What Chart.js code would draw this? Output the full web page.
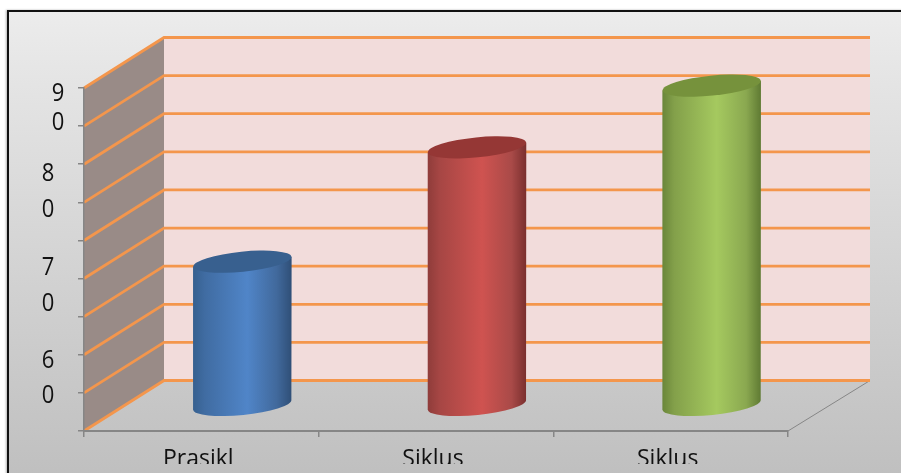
<!DOCTYPE html>
<html>
<head>
<meta charset="utf-8">
<script src="https://cdn.jsdelivr.net/npm/chart.js@4/dist/chart.umd.min.js"></script>
<style>
  html, body { margin: 0; height: 100%; background: #fff; overflow: hidden; }
  #frame {
    position: absolute; left: 7px; top: 10px; width: 920px; height: 490px;
    border: 2px solid #111; box-sizing: content-box;
    background: linear-gradient(#ececec, #e4e4e4 15%, #bdbdbd 100%);
    box-shadow: -1px 0 2px rgba(0,0,0,.3);
  }
  #chart { position: absolute; left: 0; top: 0; }
</style>
</head>
<body>
<div id="frame"><canvas id="chart" width="892" height="452"></canvas></div>
<script>
const categories = ['Prasikl', 'Siklus', 'Siklus'];
const seriesValues = [68.9, 83.9, 92];
const yTickValues = [90, 80, 70, 60];

const barColors = [
  { top: '#38608f', rim: '#36608f', edge: '#406ca2', light: '#5085c8', mid: '#41699c', dark: '#2f4f77' },
  { top: '#953735', rim: '#8f3c3a', edge: '#a64644', light: '#cf5350', mid: '#a94a48', dark: '#7a2f2e' },
  { top: '#76923c', rim: '#6a863a', edge: '#83a04a', light: '#a5c95f', mid: '#8aa850', dark: '#5f7a33' },
];

const DEPTH_X = 80;
const DEPTH_Y = 50.5;
const FONT = '"Open Sans", sans-serif';

// where each digit of the wrapped y labels sits, relative to its tick
const yLabelLayout = {
  90: { x: 49, dy: [-32, -3] },
  80: { x: 39, dy: [-28, 8] },
  70: { x: 39, dy: [-11, 25] },
  60: { x: 39, dy: [6, 41] },
};

const scenePlugin = {
  id: 'scene',
  beforeDraw(chart) {
    const { ctx, chartArea: a, scales: { y } } = chart;
    const backL = a.left + DEPTH_X, backR = a.right + DEPTH_X + 2;
    const backT = a.top - DEPTH_Y, backB = a.bottom - DEPTH_Y;
    ctx.save();
    // back wall
    ctx.fillStyle = '#f2dcdb';
    ctx.fillRect(backL, backT, backR - backL, backB - backT);
    // side wall
    ctx.fillStyle = '#998b87';
    ctx.beginPath();
    ctx.moveTo(a.left, a.top);
    ctx.lineTo(backL, backT);
    ctx.lineTo(backL, backB);
    ctx.lineTo(a.left, a.bottom);
    ctx.closePath();
    ctx.fill();
    // floor edge on the right
    ctx.strokeStyle = '#868686';
    ctx.lineWidth = 1;
    ctx.beginPath();
    ctx.moveTo(a.right, a.bottom);
    ctx.lineTo(backR, backB);
    ctx.stroke();
    // grid lines run along the side wall and then across the back wall
    ctx.strokeStyle = '#f4964c';
    ctx.lineWidth = 2.8;
    y.ticks.forEach(t => {
      const py = y.getPixelForValue(t.value);
      ctx.beginPath();
      ctx.moveTo(a.left, py);
      ctx.lineTo(backL, py - DEPTH_Y);
      ctx.lineTo(backR, py - DEPTH_Y);
      ctx.stroke();
    });
    ctx.restore();
  },
  afterDatasetsDraw(chart) {
    const { ctx } = chart;
    const offX = DEPTH_X / 2 + 1, offY = DEPTH_Y / 2;
    chart.getDatasetMeta(0).data.forEach((bar, i) => {
      const c = barColors[i];
      const cx = bar.x + offX, w = bar.width / 2;
      const top = bar.y - offY, bottom = bar.base - offY;
      const tilt = -0.1, ry = 10;
      const g = ctx.createLinearGradient(cx - w, 0, cx + w, 0);
      g.addColorStop(0, c.rim);
      g.addColorStop(0.12, c.edge);
      g.addColorStop(0.55, c.light);
      g.addColorStop(0.85, c.mid);
      g.addColorStop(1, c.dark);
      ctx.save();
      const dy = w * Math.sin(tilt);
      ctx.fillStyle = g;
      ctx.beginPath();
      ctx.moveTo(cx - w, top - dy);
      ctx.lineTo(cx - w, bottom - dy);
      ctx.ellipse(cx, bottom, w, ry, tilt, Math.PI, 0, true);
      ctx.lineTo(cx + w, top + dy);
      ctx.closePath();
      ctx.fill();
      ctx.fillStyle = c.top;
      ctx.beginPath();
      ctx.ellipse(cx, top, w, ry, tilt, 0, Math.PI * 2);
      ctx.fill();
      ctx.restore();
    });
  },
  afterDraw(chart) {
    // the wrapped digit labels are unevenly spaced, so they cannot be plain ticks
    const { ctx, scales: { y } } = chart;
    ctx.save();
    ctx.font = '25px ' + FONT;
    ctx.fillStyle = '#111';
    ctx.textAlign = 'center';
    ctx.textBaseline = 'middle';
    yTickValues.forEach(v => {
      const l = yLabelLayout[v];
      String(v).split('').forEach((d, k) => {
        ctx.save();
        ctx.translate(l.x, y.getPixelForValue(v) + l.dy[k]);
        ctx.scale(0.88, 1);
        ctx.fillText(d, 0, 0);
        ctx.restore();
      });
    });
    ctx.restore();
  },
};

new Chart(document.getElementById('chart'), {
  type: 'bar',
  data: {
    labels: categories,
    datasets: [{
      data: seriesValues,
      base: 50,
      backgroundColor: 'transparent',
      barPercentage: 0.42,
      categoryPercentage: 1,
    }],
  },
  plugins: [scenePlugin],
  options: {
    responsive: false,
    animation: false,
    layout: { padding: { left: 75, right: 113, top: 76, bottom: 0 } },
    plugins: { legend: { display: false }, tooltip: { enabled: false } },
    scales: {
      x: {
        grid: { drawOnChartArea: false, color: '#868686', tickLength: 6, lineWidth: 1.5 },
        border: { color: '#868686', width: 2 },
        // the canvas ends at the labels' baseline, which crops them like the original
        ticks: { color: '#111', font: { family: FONT, size: 23 }, padding: 9, labelOffset: -3, maxRotation: 0 },
        afterFit: s => { s.height = 33; },
      },
      y: {
        min: 50,
        max: 95,
        grid: { drawOnChartArea: false, color: '#868686', tickLength: 6, lineWidth: 1.5 },
        border: { color: '#868686', width: 1.5 },
        ticks: { stepSize: 5, display: false },
        afterFit: s => { s.width = 0; },
      },
    },
  },
});
</script>
</body>
</html>
